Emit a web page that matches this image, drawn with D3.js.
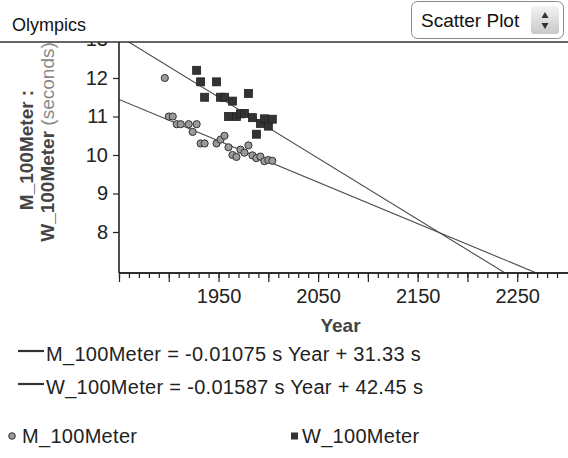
<!DOCTYPE html>
<html>
<head>
<meta charset="utf-8">
<script src="https://cdn.jsdelivr.net/npm/d3@7"></script>
<style>
  html, body { margin: 0; padding: 0; background: #fff; }
  svg { display: block; font-family: "Liberation Sans", Arial, sans-serif; }
</style>
</head>
<body>
<svg id="chart" width="568" height="458"></svg>
<script>
// Olympic 100 m winning times (seconds)
const menYears = [1896, 1900, 1904, 1908, 1912, 1920, 1924, 1928, 1932, 1936, 1948, 1952, 1956,
                  1960, 1964, 1968, 1972, 1976, 1980, 1984, 1988, 1992, 1996, 2000, 2004];
const menTimes = [12.0, 11.0, 11.0, 10.8, 10.8, 10.8, 10.6, 10.8, 10.3, 10.3, 10.3, 10.4, 10.5,
                  10.2, 10.0, 9.95, 10.14, 10.06, 10.25, 9.99, 9.92, 9.96, 9.84, 9.87, 9.85];
const womenYears = [1928, 1932, 1936, 1948, 1952, 1956, 1960, 1964, 1968, 1972, 1976, 1980,
                    1984, 1988, 1992, 1996, 2000, 2004];
const womenTimes = [12.2, 11.9, 11.5, 11.9, 11.5, 11.5, 11.0, 11.4, 11.0, 11.07, 11.08, 11.6,
                    10.97, 10.54, 10.82, 10.94, 10.75, 10.93];

// Least-squares lines: time = slope * Year + intercept
const menFit = { slope: -0.01075, intercept: 31.33 };
const womenFit = { slope: -0.01587, intercept: 42.45 };

const yTickValues = [8, 9, 10, 11, 12, 13];
const xLabelValues = [1950, 2050, 2150, 2250];
const xMajorTicks = d3.range(1850, 2300, 50);
const xMinorTicks = d3.range(1850, 2300, 10);

const svg = d3.select("#chart");
const W = 568, H = 458;
const plot = { left: 119, right: 562, top: 42, bottom: 273 };

const x = d3.scaleLinear().domain([1850, 2295]).range([plot.left, plot.right]);
const y = d3.scaleLinear().domain([6.935, 12.935]).range([plot.bottom, plot.top]);

svg.append("rect").attr("width", W).attr("height", H).attr("fill", "#fff");

svg.append("defs").append("clipPath").attr("id", "plotClip")
  .append("rect")
  .attr("x", plot.left).attr("y", plot.top)
  .attr("width", W - plot.left).attr("height", plot.bottom - plot.top);

const inner = svg.append("g").attr("clip-path", "url(#plotClip)");

// Fitted lines across the whole year domain
[menFit, womenFit].forEach(f => {
  const [x0, x1] = x.domain();
  inner.append("line")
    .attr("x1", x(x0)).attr("y1", y(f.slope * x0 + f.intercept))
    .attr("x2", x(x1)).attr("y2", y(f.slope * x1 + f.intercept))
    .attr("stroke", "#4a4a4a").attr("stroke-width", 1.1);
});

// Men: gray circles
inner.selectAll("circle.men")
  .data(d3.zip(menYears, menTimes))
  .join("circle")
  .attr("class", "men")
  .attr("cx", d => x(d[0])).attr("cy", d => y(d[1]))
  .attr("r", 3.6)
  .attr("fill", "#9a9a9a").attr("stroke", "#333").attr("stroke-width", 1);

// Women: dark squares
const sq = 8;
inner.selectAll("rect.women")
  .data(d3.zip(womenYears, womenTimes))
  .join("rect")
  .attr("class", "women")
  .attr("x", d => x(d[0]) - sq / 2).attr("y", d => y(d[1]) - sq / 2)
  .attr("width", sq).attr("height", sq)
  .attr("fill", "#333").attr("stroke", "#222").attr("stroke-width", 0.8);

// Axes
const axisColor = "#222";
const tickFont = 20;

const yAxis = svg.append("g").attr("transform", `translate(${plot.left},0)`)
  .call(d3.axisLeft(y).tickValues(yTickValues).tickSize(6).tickPadding(5).tickFormat(d3.format("d")));

const xMinor = svg.append("g").attr("transform", `translate(0,${plot.bottom})`)
  .call(d3.axisBottom(x).tickValues(xMinorTicks).tickSize(5).tickFormat(""));
const xMajor = svg.append("g").attr("transform", `translate(0,${plot.bottom})`)
  .call(d3.axisBottom(x).tickValues(xMajorTicks).tickSize(9).tickPadding(7)
    .tickFormat(d => xLabelValues.includes(d) ? String(d) : ""));

[yAxis, xMinor, xMajor].forEach(g => {
  g.selectAll(".domain").attr("stroke", axisColor).attr("stroke-width", 1.6);
  g.selectAll(".tick line").attr("stroke", axisColor).attr("stroke-width", 1.2);
  g.selectAll("text").attr("fill", "#222").attr("font-size", tickFont)
    .attr("font-family", "'Liberation Sans', Arial, sans-serif");
});
xMinor.select(".domain").attr("d", `M${plot.left},0H${W}`);
xMajor.select(".domain").attr("d", `M${plot.left},0H${W}`);
yAxis.select(".domain").attr("d", `M0,${plot.bottom}V${plot.top}`);

// Axis titles
svg.append("text")
  .attr("x", (plot.left + plot.right) / 2).attr("y", 332)
  .attr("text-anchor", "middle").attr("font-size", 19).attr("font-weight", "bold")
  .attr("fill", "#444").text("Year");

const yt1 = svg.append("text")
  .attr("transform", "translate(33,150) rotate(-90)")
  .attr("text-anchor", "middle").attr("font-size", 19).attr("fill", "#444");
yt1.append("tspan").attr("font-weight", "bold").text("M_100Meter :");

const yt2 = svg.append("text")
  .attr("transform", "translate(54,142) rotate(-90)")
  .attr("text-anchor", "middle").attr("font-size", 19).attr("fill", "#444");
yt2.append("tspan").attr("font-weight", "bold").text("W_100Meter");
yt2.append("tspan").attr("fill", "#888").text(" (seconds)");

// Header: title, separator, and chart-type selector
svg.append("rect").attr("x", 0).attr("y", 0).attr("width", W).attr("height", plot.top).attr("fill", "#fff");
svg.append("text").attr("x", 12).attr("y", 31).attr("font-size", 18).attr("fill", "#111").text("Olympics");
svg.append("line").attr("x1", 0).attr("x2", W).attr("y1", plot.top).attr("y2", plot.top)
  .attr("stroke", "#333").attr("stroke-width", 1.6);

const grad = svg.select("defs").append("linearGradient").attr("id", "spin")
  .attr("x1", 0).attr("x2", 0).attr("y1", 0).attr("y2", 1);
grad.append("stop").attr("offset", "0%").attr("stop-color", "#f4f4f4");
grad.append("stop").attr("offset", "100%").attr("stop-color", "#c8c8c8");

const dd = svg.append("g");
dd.append("rect").attr("x", 411.5).attr("y", 1.5).attr("width", 152).attr("height", 37).attr("rx", 6)
  .attr("fill", "#fff").attr("stroke", "#8a8a8a");
dd.append("text").attr("x", 421).attr("y", 27).attr("font-size", 19).attr("fill", "#111").text("Scatter Plot");
dd.append("rect").attr("x", 531).attr("y", 6).attr("width", 28).attr("height", 28).attr("rx", 3)
  .attr("fill", "url(#spin)");
dd.append("path").attr("d", "M545,12 L548.5,18 L541.5,18 Z").attr("fill", "#333");
dd.append("path").attr("d", "M545,29 L548.5,23 L541.5,23 Z").attr("fill", "#333");

// Equation legend
const eqs = [
  { y: 361, text: `M_100Meter = ${menFit.slope} s Year + ${menFit.intercept} s` },
  { y: 394, text: `W_100Meter = ${womenFit.slope} s Year + ${womenFit.intercept} s` }
];
eqs.forEach(e => {
  svg.append("line").attr("x1", 18).attr("x2", 44).attr("y1", e.y - 10).attr("y2", e.y - 10)
    .attr("stroke", "#333").attr("stroke-width", 2.2);
  svg.append("text").attr("x", 46).attr("y", e.y).attr("font-size", 20)
    .attr("letter-spacing", 0.3).attr("fill", "#222").text(e.text);
});

// Series legend
svg.append("circle").attr("cx", 12).attr("cy", 436).attr("r", 3.3)
  .attr("fill", "#9a9a9a").attr("stroke", "#333");
svg.append("text").attr("x", 22).attr("y", 443).attr("font-size", 20)
  .attr("letter-spacing", 0.3).attr("fill", "#222").text("M_100Meter");
svg.append("rect").attr("x", 291).attr("y", 432.5).attr("width", 7).attr("height", 7)
  .attr("fill", "#333");
svg.append("text").attr("x", 302).attr("y", 443).attr("font-size", 20)
  .attr("letter-spacing", 0.3).attr("fill", "#222").text("W_100Meter");
</script>
</body>
</html>
